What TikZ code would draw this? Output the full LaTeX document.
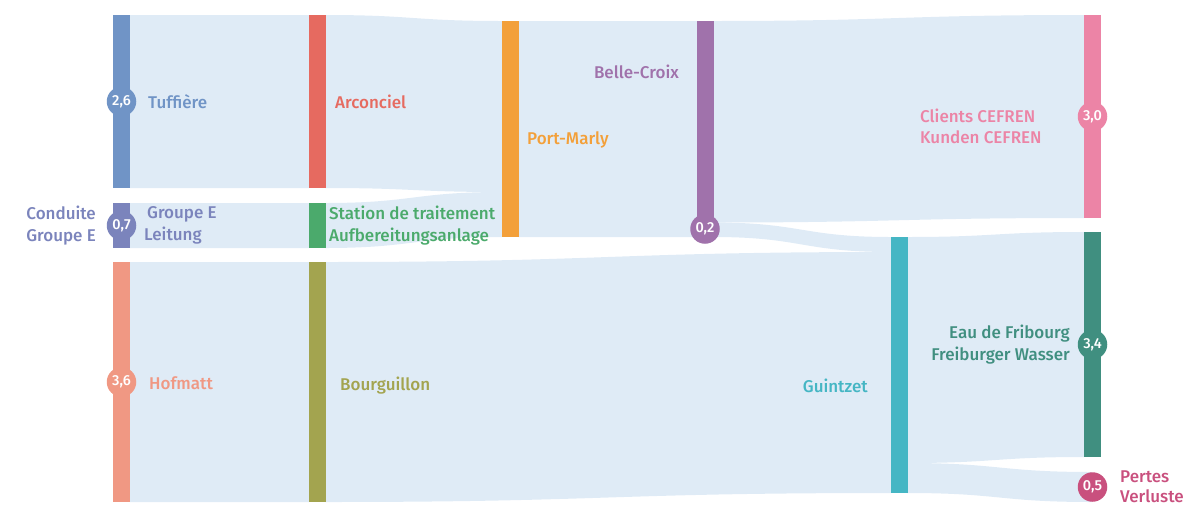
\documentclass[tikz,border=0pt]{standalone}
\usepackage{fontspec}
\setmainfont{Fira Sans}[UprightFont=* Medium]
\definecolor{flowc}{RGB}{223,235,246}
\definecolor{cTuf}{RGB}{112,148,198}
\definecolor{cGrp}{RGB}{123,132,188}
\definecolor{cHof}{RGB}{240,152,131}
\definecolor{cArc}{RGB}{230,106,96}
\definecolor{cSta}{RGB}{75,170,108}
\definecolor{cBou}{RGB}{163,164,79}
\definecolor{cPor}{RGB}{243,160,58}
\definecolor{cBel}{RGB}{160,114,171}
\definecolor{cGui}{RGB}{69,182,196}
\definecolor{cCli}{RGB}{236,132,166}
\definecolor{cEau}{RGB}{64,143,128}
\definecolor{cPer}{RGB}{201,80,126}
\newcommand\flowband[6]{%
  \pgfmathsetmacro\xm{(#1+#4)/2}%
  \fill[flowc] (#1,#2) .. controls (\xm,#2) and (\xm,#5) .. (#4,#5) -- (#4,#6) .. controls (\xm,#6) and (\xm,#3) .. (#1,#3) -- cycle;}
\tikzset{
  bar/.style={rectangle, inner sep=0pt, minimum width=17pt, draw=none},
  val/.style={circle, inner sep=0pt, minimum size=29.5pt, text=white, font=\fontsize{14.5}{14.5}\selectfont},
  lab/.style={inner sep=0pt, font=\fontsize{17}{21.5}\selectfont}
}
\begin{document}
\begin{tikzpicture}[x=1pt,y=-1pt]
\useasboundingbox (0,0) rectangle (1188,507);
% flows
\flowband{130}{15}{188}{309}{15}{188}
\flowband{130}{203}{248}{309}{203}{248}
\flowband{130}{262}{502}{309}{262}{502}
\flowband{325}{15}{188}{502}{21}{192}
\flowband{325}{203}{248}{502}{192}{237}
\flowband{325}{262}{502}{891}{252}{493}
\flowband{518}{21}{237}{697}{21}{237}
\flowband{713}{21}{222.5}{1084}{15}{218}
\flowband{713}{222.5}{237}{891}{237}{252}
\flowband{907}{237}{463}{1084}{232}{457}
\flowband{907}{463}{493}{1092}{472}{502}
% bars
\node[bar, fill=cTuf, minimum height=173pt] (tuf) at (121.5,101.5) {};
\node[bar, fill=cGrp, minimum height=45pt] (grp) at (121.5,225.5) {};
\node[bar, fill=cHof, minimum height=240pt] (hof) at (121.5,382) {};
\node[bar, fill=cArc, minimum height=173pt] (arc) at (317,101.5) {};
\node[bar, fill=cSta, minimum height=45pt] (sta) at (317,225.5) {};
\node[bar, fill=cBou, minimum height=240pt] (bou) at (317,382) {};
\node[bar, fill=cPor, minimum height=216pt] (por) at (510,129) {};
\node[bar, fill=cBel, minimum height=216pt] (bel) at (705,129) {};
\node[bar, fill=cGui, minimum height=256pt] (gui) at (899,365) {};
\node[bar, fill=cCli, minimum height=203pt] (cli) at (1092.5,116.5) {};
\node[bar, fill=cEau, minimum height=225pt] (eau) at (1092.5,344.5) {};
% value circles
\node[val, fill=cTuf] (vtuf) at (121.5,101.5) {2,6};
\node[val, fill=cGrp] (vgrp) at (121.5,225.5) {0,7};
\node[val, fill=cHof] (vhof) at (121.5,382) {3,6};
\node[val, fill=cBel] (vbel) at (705,229) {0,2};
\node[val, fill=cCli] (vcli) at (1092.5,116.5) {3,0};
\node[val, fill=cEau] (veau) at (1092.5,344.5) {3,4};
\node[val, fill=cPer] (vper) at (1092.5,487) {0,5};
% labels
\node[lab, text=cTuf, anchor=west] (ltuf) at (148,101.5) {Tuffière};
\node[lab, text=cGrp, anchor=east, align=right] (lcon) at (96,225.5) {Conduite\\Groupe E};
\node[lab, text=cGrp, anchor=west, align=left] (lgrp) at (144,225.5) {\hspace*{3pt}Groupe E\\Leitung};
\node[lab, text=cHof, anchor=west] (lhof) at (149,383) {Hofmatt};
\node[lab, text=cArc, anchor=west] (larc) at (335,102) {Arconciel};
\node[lab, text=cSta, anchor=west, align=left] (lsta) at (329,225.5) {Station de traitement\\Aufbereitungsanlage};
\node[lab, text=cBou, anchor=west] (lbou) at (340,386) {Bourguillon};
\node[lab, text=cPor, anchor=west] (lpor) at (527,140) {Port-Marly};
\node[lab, text=cBel, anchor=east] (lbel) at (679,72) {Belle-Croix};
\node[lab, text=cGui, anchor=east] (lgui) at (868,386) {Guintzet};
\node[lab, text=cCli, anchor=west, align=left] (lcli) at (920,126.5) {Clients CEFREN\\Kunden CEFREN};
\node[lab, text=cEau, anchor=east, align=right] (leau) at (1070,344.5) {Eau de Fribourg\\Freiburger Wasser};
\node[lab, text=cPer, anchor=west, align=left, font=\fontsize{17}{20}\selectfont] (lper) at (1120,487) {Pertes\\Verluste};
\end{tikzpicture}
\end{document}
